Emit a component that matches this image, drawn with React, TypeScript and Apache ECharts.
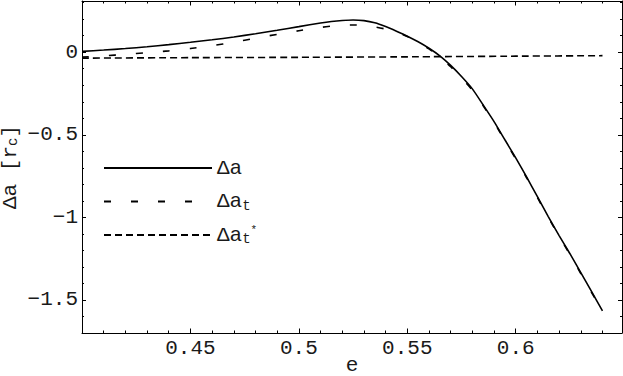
import React, { useEffect, useRef } from "react";
import * as echarts from "echarts";

// ---- data ----
const eGrid = [
  0.40, 0.41, 0.42, 0.43, 0.44, 0.45, 0.46, 0.47, 0.48, 0.49, 0.50, 0.51, 0.515,
  0.52, 0.525, 0.53, 0.535, 0.54, 0.545, 0.55, 0.555, 0.56, 0.565, 0.57, 0.575,
  0.58, 0.585, 0.59, 0.595, 0.60, 0.605, 0.61, 0.615, 0.62, 0.625, 0.63, 0.635, 0.64,
];
const deltaA = [
  0.005, 0.013, 0.022, 0.033, 0.046, 0.060, 0.075, 0.092, 0.112, 0.133, 0.155, 0.177, 0.186,
  0.192, 0.195, 0.191, 0.178, 0.155, 0.127, 0.097, 0.063, 0.024, -0.022, -0.08, -0.147,
  -0.222, -0.32, -0.42, -0.53, -0.64, -0.755, -0.875, -0.995, -1.11, -1.22, -1.335, -1.45, -1.566,
];
const deltaAt = [
  -0.03, -0.022, -0.013, -0.003, 0.008, 0.022, 0.04, 0.06, 0.085, 0.108, 0.13, 0.15, 0.158,
  0.163, 0.165, 0.162, 0.153, 0.14, 0.122, 0.095, 0.06, 0.02, -0.028, -0.088, -0.155,
  -0.23, -0.325, -0.425, -0.535, -0.645, -0.76, -0.88, -1.0, -1.115, -1.225, -1.34, -1.455, -1.566,
];
const eStar = [0.40, 0.45, 0.50, 0.55, 0.60, 0.64];
const deltaAtStar = [-0.036, -0.033, -0.031, -0.028, -0.024, -0.021];

const xTickLabels = [0.45, 0.5, 0.55, 0.6];
const yTickLabels = [-1.5, -1, -0.5, 0];

const X_MIN = 0.4;
const X_MAX = 0.649;
const Y_MIN = -1.7;
const Y_MAX = 0.31;

const FONT = "'Liberation Mono', 'DejaVu Sans Mono', monospace";
const TXT = "#1a1a1a";

const pairs = (xs: number[], ys: number[]) => xs.map((x, i) => [x, ys[i]]);

export default function App() {
  const ref = useRef<HTMLDivElement>(null);

  useEffect(() => {
    document.body.style.margin = "0";
    if (!ref.current) return;
    const chart = echarts.init(ref.current, null, { renderer: "svg" });

    const lineCommon = { show: true, onZero: false, lineStyle: { color: "#000", width: 1 } };
    const minorX = (pos: "top" | "bottom", labels: boolean) => ({
      type: "value",
      position: pos,
      min: X_MIN,
      max: X_MAX,
      interval: 0.01,
      axisLine: lineCommon,
      splitLine: { show: false },
      axisTick: { show: true, inside: true, length: 2.5, lineStyle: { color: "#000", width: 1 } },
      axisLabel: labels
        ? {
            show: true,
            customValues: xTickLabels,
            margin: 5,
            color: TXT,
            fontFamily: FONT,
            fontSize: 21,
          }
        : { show: false },
      ...(labels
        ? {
            name: "e",
            nameLocation: "middle",
            nameGap: 24,
            nameMoveOverlap: false,
            nameTextStyle: { color: TXT, fontFamily: FONT, fontSize: 21, lineHeight: 16 },
          }
        : {}),
    });
    const majorX = (pos: "top" | "bottom") => ({
      type: "value",
      position: pos,
      min: X_MIN,
      max: X_MAX,
      interval: 0.01,
      axisLine: { show: false, onZero: false },
      splitLine: { show: false },
      axisTick: {
        show: true,
        inside: true,
        length: 4.5,
        customValues: xTickLabels,
        lineStyle: { color: "#000", width: 1 },
      },
      axisLabel: { show: false },
    });
    const minorY = (pos: "left" | "right", labels: boolean) => ({
      type: "value",
      position: pos,
      min: Y_MIN,
      max: Y_MAX,
      interval: 0.1,
      axisLine: lineCommon,
      splitLine: { show: false },
      axisTick: { show: true, inside: true, length: 2, lineStyle: { color: "#000", width: 1 } },
      axisLabel: labels
        ? {
            show: true,
            customValues: yTickLabels,
            margin: 4,
            color: TXT,
            fontFamily: FONT,
            fontSize: 21,
            formatter: (v: number) => String(v).replace("-", "\u2212"),
          }
        : { show: false },
      ...(labels
        ? {
            name: "Δa [r{c|c}]",
            nameLocation: "middle",
            nameGap: 62,
            nameMoveOverlap: false,
            nameTextStyle: {
              color: TXT,
              fontFamily: FONT,
              fontSize: 21,
              lineHeight: 20,
              rich: { c: { fontFamily: FONT, fontSize: 14, color: TXT, verticalAlign: "bottom", lineHeight: 14 } },
            },
          }
        : {}),
    });
    const majorY = (pos: "left" | "right") => ({
      type: "value",
      position: pos,
      min: Y_MIN,
      max: Y_MAX,
      interval: 0.1,
      axisLine: { show: false, onZero: false },
      splitLine: { show: false },
      axisTick: {
        show: true,
        inside: true,
        length: 4,
        customValues: yTickLabels,
        lineStyle: { color: "#000", width: 1 },
      },
      axisLabel: { show: false },
    });

    const legendLabel: Record<string, string> = {
      "Δa": "Δa",
      "Δa_t": "Δa{s|t}",
      "Δa_t*": "Δa{s|t}{p|*}",
    };

    chart.setOption({
      animation: false,
      grid: { left: 82, right: 1, top: 1, bottom: 43, containLabel: false, outerBoundsMode: "none" },
      legend: {
        orient: "vertical",
        left: 103,
        top: 157,
        padding: 0,
        itemWidth: 108,
        itemHeight: 20,
        itemGap: 11.5,
        selectedMode: false,
        data: ["Δa", "Δa_t", "Δa_t*"],
        formatter: (name: string) => legendLabel[name] ?? name,
        itemStyle: { color: "rgba(0,0,0,0)", borderWidth: 0, opacity: 0 },
        textStyle: {
          color: TXT,
          fontFamily: FONT,
          fontSize: 21,
          lineHeight: 22,
          rich: {
            s: { fontFamily: FONT, fontSize: 14, color: TXT, verticalAlign: "bottom", lineHeight: 14 },
            p: { fontFamily: FONT, fontSize: 11, color: TXT, verticalAlign: "top", lineHeight: 11 },
          },
        },
      },
      xAxis: [minorX("bottom", true), majorX("bottom"), minorX("top", false), majorX("top")],
      yAxis: [minorY("left", true), majorY("left"), minorY("right", false), majorY("right")],
      series: [
        {
          name: "Δa",
          type: "line",
          symbol: "none",
          smooth: 0.2,
          data: pairs(eGrid, deltaA),
          lineStyle: { color: "#000", width: 1.6, type: "solid" },
          itemStyle: { color: "#000" },
        },
        {
          name: "Δa_t",
          type: "line",
          symbol: "none",
          smooth: 0.2,
          data: pairs(eGrid, deltaAt),
          lineStyle: { color: "#000", width: 1.6, type: [7, 20] },
          itemStyle: { color: "#000" },
        },
        {
          name: "Δa_t*",
          type: "line",
          symbol: "none",
          smooth: 0.2,
          data: pairs(eStar, deltaAtStar),
          lineStyle: { color: "#000", width: 1.6, type: [7, 4] },
          itemStyle: { color: "#000" },
        },
      ],
    });

    return () => chart.dispose();
  }, []);

  return <div ref={ref} style={{ width: 623, height: 376 }} />;
}
